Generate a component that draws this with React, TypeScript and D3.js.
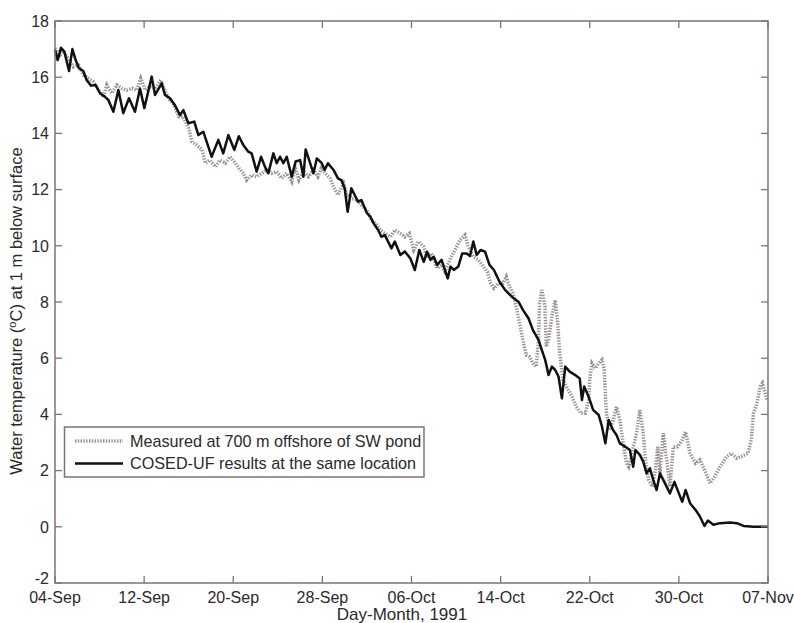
import React from "react";
import * as d3 from "d3";

// day offsets from 04-Sep-1991 and water temperature (degC)
const measuredDays = [
  0, 0.45, 0.75, 1.2, 1.65, 2.1, 2.55, 3.0, 3.45, 3.9, 4.35, 4.65, 5.1, 5.55, 6.0, 6.45, 6.9, 7.35, 7.7, 8.1,
  8.5, 9.0, 9.5, 9.9, 10.3, 10.7, 11.1, 11.5, 12.0, 12.3, 12.7, 13.2, 13.5, 13.9, 14.4, 14.8, 15.3, 15.7, 16.2, 16.5,
  16.9, 17.2, 17.65, 18.1, 18.55, 19.0, 19.45, 19.9, 20.35, 20.8, 21.25, 21.55, 21.9, 22.3, 22.75, 23.2, 23.6, 23.9, 24.25, 24.7,
  25.0, 25.4, 25.9, 26.2, 26.6, 27.1, 27.5, 28.0, 28.4, 28.9, 29.2, 29.6, 30.1, 30.5, 31.0, 31.4, 31.8, 32.2, 32.6, 33.1,
  33.4, 33.8, 34.3, 34.7, 35.0, 35.5, 35.9, 36.35, 36.8, 37.1, 37.55, 38.0, 38.45, 38.8, 39.1, 39.4, 39.8, 40.2, 40.5, 40.8,
  41.1, 41.4, 41.7, 42.0, 42.3, 42.6, 42.9, 43.2, 43.4, 43.5, 43.7, 43.98, 44.1, 44.3, 44.6, 44.9, 45.1, 45.3, 45.6, 45.9,
  46.4, 46.8, 47.2, 47.6, 47.9, 48.0, 48.2, 48.5, 48.8, 49.1, 49.3, 49.4, 49.5, 49.8, 50.1, 50.4, 50.7, 51.0, 51.3, 51.5,
  51.9, 52.2, 52.5, 52.8, 53.0, 53.3, 53.6, 53.9, 54.1, 54.3, 54.6, 54.9, 55.2, 55.5, 55.9, 56.3, 56.6, 57.0, 57.5, 57.9,
  58.3, 58.8, 59.2, 59.7, 60.3, 60.7, 61.2, 61.6, 62.2, 62.5, 62.7, 63.0, 63.3, 63.5, 63.7, 63.9,
];
const measuredTemp = [
  17.03, 16.79, 16.91, 16.67, 16.37, 16.43, 16.08, 15.96, 15.84, 15.54, 15.3, 15.72, 15.43, 15.72, 15.6, 15.54, 15.6, 15.54, 15.96, 15.54,
  15.66, 15.6, 15.9, 15.48, 15.19, 15.0, 14.6, 14.6, 14.18, 13.7, 13.59, 13.41, 12.94, 13.05, 12.81, 13.05, 12.94, 13.17, 12.94, 12.76,
  12.58, 12.34, 12.52, 12.46, 12.58, 12.7, 12.58, 12.64, 12.4, 12.58, 12.28, 12.81, 12.34, 12.64, 12.46, 12.7, 12.46, 12.76, 12.58, 12.4,
  12.1, 11.81, 12.22, 11.81, 11.69, 11.63, 11.45, 11.27, 10.92, 10.74, 10.56, 10.44, 10.32, 10.56, 10.44, 10.32, 10.44, 9.85, 10.15, 9.97,
  9.56, 9.73, 9.2, 9.32, 9.08, 9.56, 9.85, 10.2, 10.38, 9.97, 9.61, 9.5, 9.26, 9.08, 8.67, 8.49, 8.67, 8.67, 8.9, 8.55,
  8.31, 7.84, 7.24, 6.65, 6.11, 6.05, 5.82, 5.7, 6.65, 7.95, 8.43, 7.84, 6.41, 6.65, 7.48, 8.07, 7.36, 6.17, 5.22, 4.99,
  4.63, 4.27, 4.04, 4.04, 4.51, 5.22, 5.82, 5.64, 5.82, 5.94, 5.58, 4.75, 4.04, 3.44, 3.8, 4.27, 3.8, 2.97, 2.26, 2.14,
  2.85, 3.33, 4.16, 3.33, 2.38, 1.67, 1.43, 2.02, 2.85, 1.9, 3.33, 2.38, 1.43, 2.85, 2.85, 3.09, 3.38, 2.61, 2.26, 2.38,
  2.02, 1.55, 1.78, 2.14, 2.5, 2.61, 2.44, 2.5, 2.61, 3.09, 4.04, 4.39, 4.99, 5.11, 4.81, 4.51,
];

const modelDays = [
  0, 0.24, 0.54, 0.84, 1.26, 1.56, 1.86, 2.15, 2.54, 2.84, 3.23, 3.65, 4.04, 4.49, 4.79, 5.24, 5.69, 6.13, 6.64, 7.18,
  7.63, 8.02, 8.68, 8.98, 9.58, 9.87, 10.32, 10.77, 11.22, 11.52, 11.97, 12.5, 12.87, 13.31, 14.06, 14.66, 15.1, 15.56, 16.1, 16.5,
  16.9, 17.35, 17.65, 18.1, 18.5, 18.85, 19.15, 19.6, 19.9, 20.2, 20.5, 20.8, 21.25, 21.6, 22.0, 22.3, 22.5, 22.9, 23.2, 23.5,
  23.95, 24.2, 24.5, 25.0, 25.4, 25.7, 26.0, 26.27, 26.6, 26.9, 27.2, 27.5, 28.0, 28.3, 28.6, 29.0, 29.3, 29.6, 29.9, 30.2,
  30.5, 31.0, 31.4, 31.9, 32.3, 32.7, 33.1, 33.4, 33.7, 34.0, 34.3, 34.7, 35.0, 35.25, 35.5, 35.8, 36.2, 36.55, 36.95, 37.25,
  37.55, 37.85, 38.2, 38.6, 39.0, 39.4, 39.9, 40.4, 41.0, 41.6, 42.0, 42.5, 42.9, 43.4, 43.7, 44.0, 44.3, 44.6, 44.9, 45.2,
  45.5, 45.8, 46.2, 46.7, 47.1, 47.3, 47.5, 47.9, 48.3, 48.8, 49.1, 49.4, 49.7, 50.1, 50.4, 50.7, 51.2, 51.6, 51.9, 52.1,
  52.5, 52.8, 53.1, 53.4, 53.7, 54.0, 54.3, 54.6, 54.9, 55.2, 55.6, 56.0, 56.3, 56.6, 57.0, 57.5, 57.9, 58.3, 58.6, 59.1,
  59.7, 60.6, 61.2, 61.8, 62.7, 64.0,
];
const modelTemp = [
  16.97, 16.61, 17.05, 16.91, 16.22, 17.0, 16.6, 16.32, 16.22, 15.9, 15.7, 15.72, 15.43, 15.3, 15.19, 14.77, 15.54, 14.72, 15.25, 14.77,
  15.6, 14.9, 16.02, 15.37, 15.78, 15.37, 15.25, 15.0, 14.65, 14.83, 14.36, 14.42, 13.94, 14.06, 13.17, 13.77, 13.29, 13.94, 13.41, 13.9,
  13.59, 13.35, 13.29, 12.64, 13.17, 12.81, 12.58, 13.29, 12.94, 13.17, 12.94, 13.17, 12.46, 13.0, 13.05, 12.46, 13.43, 12.94, 12.58, 13.11,
  12.94, 12.7, 12.94, 12.7, 12.4, 12.34, 12.05, 11.21, 12.05, 11.81, 11.57, 11.63, 11.16, 11.04, 10.8, 10.56, 10.32, 10.38, 10.15, 9.91,
  10.15, 9.67, 9.8, 9.55, 9.14, 9.85, 9.43, 9.79, 9.5, 9.61, 9.32, 9.5, 9.14, 8.84, 9.26, 9.14, 9.26, 9.73, 9.73, 9.64,
  10.15, 9.67, 9.85, 9.79, 9.32, 9.14, 8.72, 8.43, 8.19, 8.01, 7.72, 7.42, 7.0, 6.65, 6.29, 5.94, 5.4, 5.7, 5.58, 5.34,
  4.57, 5.7, 5.52, 5.4, 5.28, 4.51, 4.99, 4.63, 4.16, 3.98, 3.56, 2.97, 3.8, 3.44, 3.27, 2.97, 2.85, 2.73, 2.14, 2.73,
  2.56, 2.32, 1.9, 2.08, 1.67, 1.31, 1.9, 1.67, 1.43, 1.19, 1.6, 1.19, 0.89, 1.31, 0.84, 0.6, 0.36, 0.03, 0.22, 0.07,
  0.13, 0.15, 0.13, 0.03, 0.0, 0.0,
];

const tickDates = ["1991-09-04", "1991-09-12", "1991-09-20", "1991-09-28", "1991-10-06", "1991-10-14", "1991-10-22", "1991-10-30", "1991-11-07"];
const yTicks = [-2, 0, 2, 4, 6, 8, 10, 12, 14, 16, 18];
const legendLabels = ["Measured at 700 m offshore of SW pond", "COSED-UF results at the same location"];

const W = 794, H = 623;
const left = 55, right = 768, top = 21, bottom = 583;
const font = "'Liberation Sans', Arial, sans-serif";
const axisColor = "#7d746f";
const textColor = "#2a2a2a";
const grayLine = "#9a9292";

const start = new Date(Date.UTC(1991, 8, 4));
const toDate = (d: number) => new Date(start.getTime() + d * 864e5);
const parse = d3.utcParse("%Y-%m-%d");
const fmt = d3.utcFormat("%d-%b");

export default function App() {
  const x = d3.scaleUtc().domain([parse(tickDates[0])!, parse(tickDates[tickDates.length - 1])!]).range([left, right]);
  const y = d3.scaleLinear().domain([-2, 18]).range([bottom, top]);

  const line = d3.line<[number, number]>()
    .x((d) => x(toDate(d[0])))
    .y((d) => y(d[1]));

  const measured = measuredDays.map((d, i) => [d, measuredTemp[i]] as [number, number]);
  const model = modelDays.map((d, i) => [d, modelTemp[i]] as [number, number]);

  const tl = 7;

  return (
    <svg width={W} height={H} style={{ position: "absolute", left: 0, top: 0, background: "#fff" }} fontFamily={font}>
      <rect x={0} y={0} width={W} height={H} fill="#fff" />
      {/* series: measured under, model on top */}
      <path d={line(measured) || ""} fill="none" stroke={grayLine} strokeWidth={3.5} strokeDasharray="1.4,1.4" />
      <path d={line(model) || ""} fill="none" stroke="#111" strokeWidth={2.5} strokeLinejoin="round" />

      <rect x={left} y={top} width={right - left} height={bottom - top} fill="none" stroke={axisColor} strokeWidth={1.5} />

      {tickDates.map((s) => {
        const px = x(parse(s)!);
        return (
          <g key={s}>
            <line x1={px} x2={px} y1={bottom} y2={bottom - tl} stroke={axisColor} strokeWidth={1.3} />
            <line x1={px} x2={px} y1={top} y2={top + tl} stroke={axisColor} strokeWidth={1.3} />
            <text x={px} y={603} textAnchor="middle" fontSize={16} fill={textColor}>{fmt(parse(s)!)}</text>
          </g>
        );
      })}

      {yTicks.map((t) => {
        const py = y(t);
        // the bottom label sits a little higher so it clears the first date label
        const ty = t === -2 ? py - 5 : py;
        return (
          <g key={t}>
            <line x1={left} x2={left + tl} y1={py} y2={py} stroke={axisColor} strokeWidth={1.3} />
            <line x1={right} x2={right - tl} y1={py} y2={py} stroke={axisColor} strokeWidth={1.3} />
            <text x={49} y={ty} dy="0.36em" textAnchor="end" fontSize={16} fill={textColor}>{t}</text>
          </g>
        );
      })}

      <text x={402} y={620} textAnchor="middle" fontSize={17} fill={textColor}>Day-Month, 1991</text>
      <text transform="translate(22,311) rotate(-90)" textAnchor="middle" fontSize={16.5} fill={textColor}>
        Water temperature (<tspan fontSize={11} dy={-6}>o</tspan><tspan dy={6}>C) at 1 m below surface</tspan>
      </text>

      {/* legend */}
      <rect x={64.5} y={427} width={359.5} height={50} fill="#fff" stroke={axisColor} strokeWidth={1.5} />
      <line x1={75} x2={123} y1={441} y2={441} stroke={grayLine} strokeWidth={3.5} strokeDasharray="1.4,1.4" />
      <line x1={75} x2={123} y1={463.5} y2={463.5} stroke="#111" strokeWidth={2.3} />
      <text x={130} y={441} dy="0.36em" fontSize={16.2} fill={textColor}>{legendLabels[0]}</text>
      <text x={130} y={463.5} dy="0.36em" fontSize={16.2} fill={textColor}>{legendLabels[1]}</text>
    </svg>
  );
}
